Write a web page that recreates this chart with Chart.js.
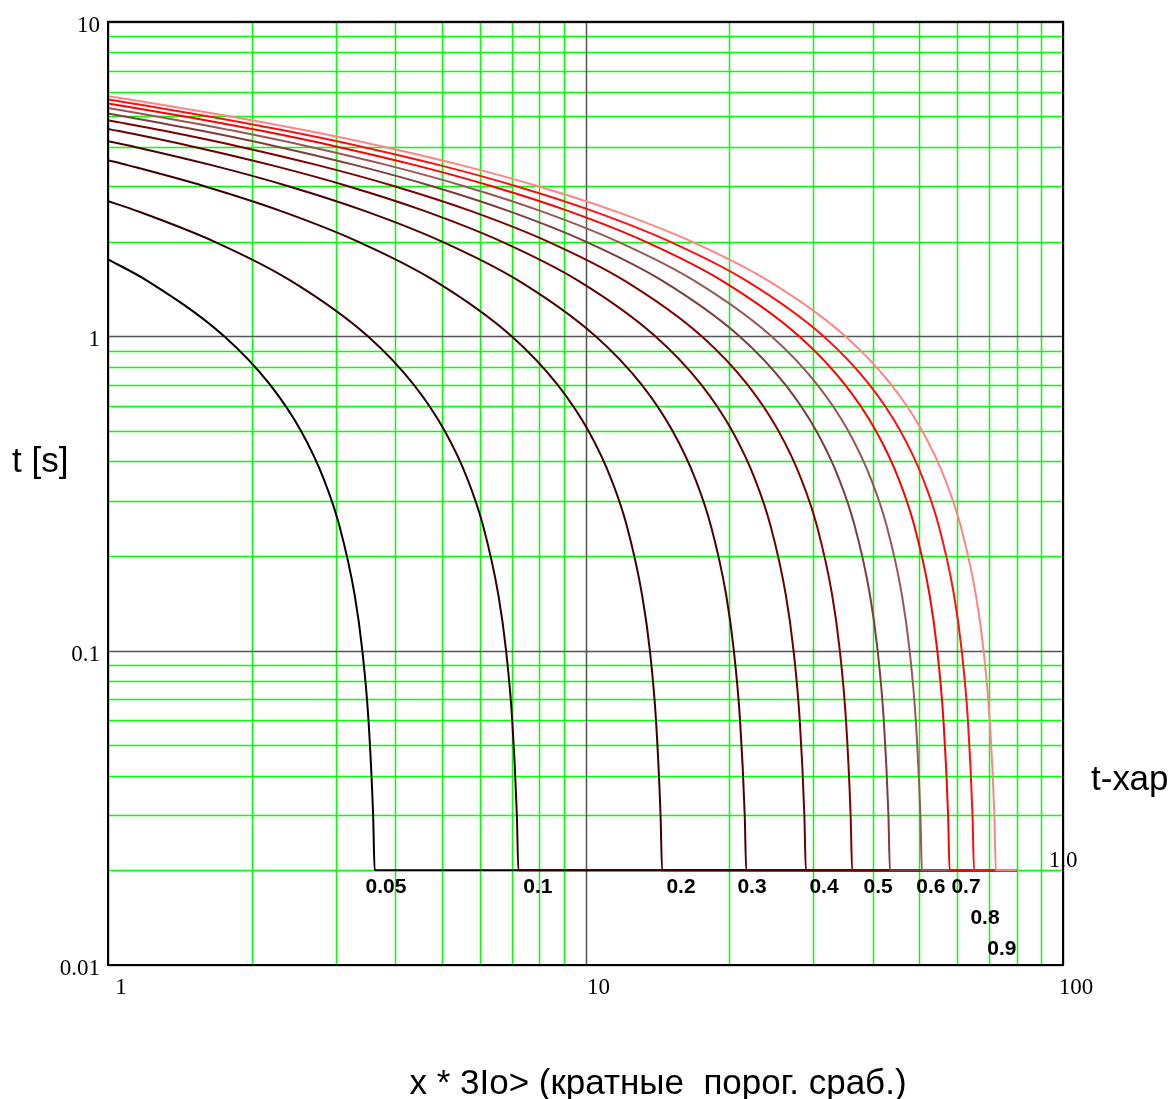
<!DOCTYPE html>
<html><head><meta charset="utf-8">
<script src="https://cdn.jsdelivr.net/npm/chart.js@4/dist/chart.umd.min.js"></script>
<style>html,body{margin:0;padding:0;background:#fff;}</style>
</head><body>
<canvas id="c" width="1175" height="1099"></canvas>
<script>
// ---------- data ----------
const curveNames  = ['0.05','0.1','0.2','0.3','0.4','0.5','0.6','0.7','0.8','0.9','1.0'];
const curveColors = ['#000000','#2e0000','#3c0000','#4c0000','#680000','#800000','#7e3c3c','#9a5656','#ff0000','#ff1010','#ff8484'];
// time levels (s) at which the curves were read
const tLevels = [5.5,5,4.5,4,3.5,3,2.5,2,1.5,1,0.7,0.5,0.35,0.25,0.15,0.1,0.06,0.03,0.02];
// time at x = 1 for each curve
const tAtOne = [1.756,2.69,3.63,4.17,4.56,4.86,5.11,5.32,5.50,5.66,5.80];
// x where each curve crosses the last levels of tLevels
const x005 = [1.209,1.751,2.186,2.535,2.833,3.051,3.286,3.409,3.512,3.591,3.618];
const x01  = [1.152,1.669,2.417,3.501,4.372,5.070,5.666,6.101,6.571,6.818,7.024,7.182,7.235];
const x02  = [1.099,1.591,2.305,3.338,4.834,7.002,8.744,10.14,11.33,12.20,13.14,13.64,14.05,14.36,14.47];
const x03  = [1.138,1.648,2.387,3.457,5.007,7.252,10.50,13.12,15.21,17.00,18.30,19.71,20.45,21.07,21.55,21.71];
const x04  = [1.048,1.517,2.198,3.183,4.610,6.676,9.669,14.00,17.49,20.28,22.66,24.40,26.28,27.27,28.10,28.73,28.94];
const x05  = [1.310,1.897,2.747,3.979,5.762,8.345,12.09,17.51,21.86,25.35,28.33,30.51,32.86,34.09,35.12,35.91,36.18];
const x06  = [1.085,1.572,2.276,3.296,4.774,6.914,10.01,14.50,21.01,26.23,30.42,34.00,36.61,39.43,40.91,42.14,43.09,43.41];
const x07  = [1.266,1.834,2.656,3.846,5.570,8.067,11.68,16.92,24.51,30.60,35.49,39.66,42.71,46.00,47.73,49.17,50.27,50.65];
const x08  = [1.447,2.096,3.035,4.395,6.366,9.219,13.35,19.34,28.01,34.98,40.56,45.33,48.81,52.57,54.54,56.19,57.46,57.88];
const x09  = [1.124,1.628,2.358,3.414,4.945,7.161,10.37,15.02,21.75,31.51,39.35,45.63,50.99,54.91,59.14,61.36,63.22,64.64,65.12];
const x10  = [1.249,1.809,2.620,3.794,5.494,7.957,11.52,16.69,24.17,35.01,43.72,50.70,56.66,61.01,65.71,68.18,70.24,71.82,72.35];
const curveX = [x005,x01,x02,x03,x04,x05,x06,x07,x08,x09,x10];
const plateauT = 0.02;      // minimum time
const plateauEndX = 80;     // end of the horizontal part
// tick values
const xTicks = [1,2,3,4,5,6,7,8,9,10,20,30,40,50,60,70,80,90,100];
const yTicks = [0.01,0.02,0.03,0.04,0.05,0.06,0.07,0.08,0.09,0.1,0.2,0.3,0.4,0.5,0.6,0.7,0.8,0.9,1,2,3,4,5,6,7,8,9,10];
const xMajor = [1,10,100];
const yMajor = [0.01,0.1,1,10];
// curve-label anchors (data units)
const labelX = [3.82,7.95,15.85,22.32,31.59,40.99,52.9,62.65,68.65,74.5];
const labelT = [0.0177,0.0177,0.0177,0.0177,0.0177,0.0177,0.0177,0.0177,0.0141,0.0112];
const endLabelX = 100, endLabelT = 0.0215;

// ---------- build datasets ----------
const datasets = curveNames.map((name, i) => {
  const xs = curveX[i];
  const off = tLevels.length - xs.length;
  const pts = [{x:1, y:tAtOne[i]}]
    .concat(xs.map((x, j) => ({x:x, y:tLevels[off + j]})))
    .concat([{x:plateauEndX, y:plateauT}]);
  return {label:name, data:pts, borderColor:curveColors[i], backgroundColor:curveColors[i],
          borderWidth:2, pointRadius:0, showLine:true, fill:false,
          cubicInterpolationMode:'monotone'};
}).reverse(); // highest parameter on top

const overlay = {
  id:'overlay',
  beforeDatasetsDraw(chart){
    const ctx = chart.ctx, xs = chart.scales.x, ys = chart.scales.y, a = chart.chartArea;
    ctx.save();
    const vline = (v, col, w) => { const p = Math.round(xs.getPixelForValue(v)) + 0.5;
      ctx.lineWidth = w; ctx.strokeStyle = col; ctx.beginPath(); ctx.moveTo(p, a.top); ctx.lineTo(p, a.bottom); ctx.stroke(); };
    const hline = (v, col, w) => { const p = Math.round(ys.getPixelForValue(v)) + 0.5;
      ctx.lineWidth = w; ctx.strokeStyle = col; ctx.beginPath(); ctx.moveTo(a.left, p); ctx.lineTo(a.right, p); ctx.stroke(); };
    xTicks.filter(v => !xMajor.includes(v)).forEach(v => vline(v, '#00ff00', 1.5));
    yTicks.filter(v => !yMajor.includes(v)).forEach(v => hline(v, '#00ff00', 1.5));
    xMajor.forEach(v => vline(v, '#555555', 1.5));
    yMajor.forEach(v => hline(v, '#555555', 1.5));
    ctx.restore();
  },
  afterDatasetsDraw(chart){
    const ctx = chart.ctx, xs = chart.scales.x, ys = chart.scales.y;
    ctx.save();
    ctx.fillStyle = '#000';
    ctx.textAlign = 'center'; ctx.textBaseline = 'middle';
    ctx.font = 'bold 21px "Liberation Sans", Arial, sans-serif';
    for (let i = 0; i < labelX.length; i++) {
      ctx.fillText(curveNames[i], xs.getPixelForValue(labelX[i]), ys.getPixelForValue(labelT[i]));
    }
    ctx.font = '23px "Liberation Serif", "Times New Roman", serif';
    ctx.fillText(curveNames[10], xs.getPixelForValue(endLabelX), ys.getPixelForValue(endLabelT));
    ctx.restore();
  },
  afterDraw(chart){
    const ctx = chart.ctx, a = chart.chartArea;
    ctx.save();
    ctx.strokeStyle = '#000'; ctx.lineWidth = 2;
    ctx.strokeRect(a.left, a.top, a.right - a.left, a.bottom - a.top);
    ctx.fillStyle = '#000';
    ctx.textBaseline = 'middle';
    ctx.font = '35px "Liberation Sans", Arial, sans-serif';
    ctx.textAlign = 'left';
    ctx.fillText('t [s]', 12, 462);
    ctx.fillText('t-хар', 1091, 780);
    ctx.textAlign = 'center';
    ctx.fillText('x * 3Io> (кратные  порог. сраб.)', 658, 1084);
    ctx.restore();
  }
};

new Chart(document.getElementById('c'), {
  type:'scatter',
  data:{datasets:datasets},
  options:{
    responsive:false, animation:false, devicePixelRatio:1,
    layout:{padding:{left:0, top:19, right:112, bottom:0}},
    plugins:{legend:{display:false}, tooltip:{enabled:false}},
    scales:{
      x:{type:'logarithmic', min:1, max:100,
         afterBuildTicks: s => { s.ticks = xTicks.map(v => ({value:v})); },
         afterFit: s => { s.height = 134; },
         grid:{display:false, drawTicks:false},
         border:{display:false},
         ticks:{autoSkip:false, maxRotation:0, padding:9, labelOffset:13, color:'#000',
                font:{family:'"Liberation Serif", "Times New Roman", serif', size:23},
                callback: v => xMajor.includes(v) ? String(v) : ''}},
      y:{type:'logarithmic', min:0.01, max:10,
         afterBuildTicks: s => { s.ticks = yTicks.map(v => ({value:v})); },
         afterFit: s => { s.width = 108; },
         grid:{display:false, drawTicks:false},
         border:{display:false},
         ticks:{autoSkip:false, padding:8, labelOffset:4, color:'#000',
                font:{family:'"Liberation Serif", "Times New Roman", serif', size:23},
                callback: v => yMajor.includes(v) ? String(v) : ''}}
    }
  },
  plugins:[overlay]
});
</script>
</body></html>
